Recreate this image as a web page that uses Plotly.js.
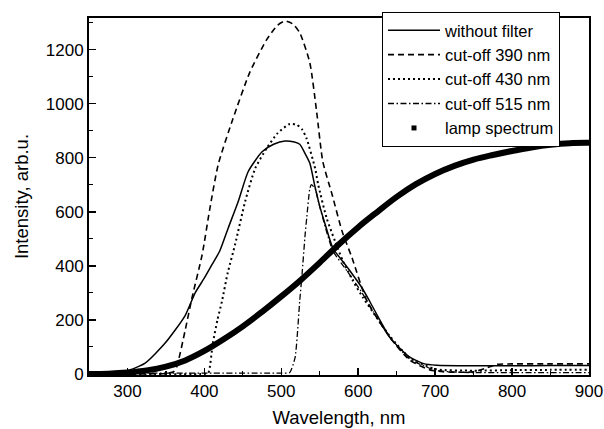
<!DOCTYPE html>
<html>
<head>
<meta charset="utf-8">
<script src="https://cdn.plot.ly/plotly-3.0.1.min.js"></script>
<style>html,body{margin:0;padding:0;background:#fff;}#chart{width:604px;height:429px;}</style>
</head>
<body>
<div id="chart"></div>
<script>
// Lamp spectrum
var lampX = [250,275,300,325,350,375,400,425,450,475,500,525,550,575,600,625,650,675,700,725,750,775,800,825,850,875,900];
var lampY = [0,1,5,13,27,50,85,128,176,230,287,347,412,480,543,600,655,702,740,770,793,810,825,838,848,854,855];

// Without filter
var noFiltX = [250,275,300,323,349,375,388,400,410,420,431,444,457,475,490,505,517,524,531,537,544,550,557,567,587,605,615,628,641,655,667,685,702,750,800,850,900];
var noFiltY = [2,4,12,40,114,216,300,355,405,455,540,638,749,822,850,862,858,850,815,780,690,620,554,466,390,318,268,200,136,92,62,38,32,30,30,31,31];

// Cut-off 390 nm
var cut390X = [250,300,350,360,364,375,384,397,407,418,437,459,481,495,505,515,524,537,546,554,566,579,592,611,641,667,693,710,730,750,765,780,800,850,900];
var cut390Y = [0,0,2,8,26,161,283,440,610,775,943,1116,1237,1290,1306,1295,1262,1152,969,785,664,528,429,272,136,51,15,8,6,8,20,35,37,37,37];

// Cut-off 430 nm
var cut430X = [250,400,405,411,417,423,430,440,453,466,481,495,511,520,527,533,544,548,559,570,580,593,606,620,641,667,700,750,800,850,900];
var cut430Y = [0,0,3,114,200,271,370,480,638,760,835,890,925,922,905,870,760,700,576,490,418,345,283,225,140,60,18,12,14,15,15];

// Cut-off 515 nm
var cut515X = [250,300,400,500,511,518,524,527,531,533,537,539,544,548,557,567,587,605,620,641,667,700,730,800,900];
var cut515Y = [3,3,3,3,5,62,272,370,517,576,685,700,686,640,545,455,375,300,228,135,55,14,6,5,5];

var names = ['without filter','cut-off 390 nm','cut-off 430 nm','cut-off 515 nm','lamp spectrum'];

var traces = [
  {x: lampX, y: lampY, mode: 'lines', line: {color: '#000', width: 6, shape: 'spline', smoothing: 1}, showlegend: false, hoverinfo: 'skip'},
  {x: noFiltX, y: noFiltY, name: names[0], mode: 'lines', line: {color: '#000', width: 1.5, shape: 'spline', smoothing: 0.6}},
  {x: cut390X, y: cut390Y, name: names[1], mode: 'lines', line: {color: '#000', width: 1.6, dash: '6px,4px', shape: 'spline', smoothing: 0.6}},
  {x: cut430X, y: cut430Y, name: names[2], mode: 'lines', line: {color: '#000', width: 2, dash: '2px,3px', shape: 'spline', smoothing: 0.6}},
  {x: cut515X, y: cut515Y, name: names[3], mode: 'lines', line: {color: '#000', width: 1.3, dash: '6px,2.5px,1.5px,2.5px', shape: 'spline', smoothing: 0.5}},
  {x: [null], y: [null], name: names[4], mode: 'markers', marker: {symbol: 'square', size: 5, color: '#000'}}
];

var fontFam = 'Liberation Sans, Arial, sans-serif';
var layout = {
  width: 604, height: 429,
  margin: {l: 89, r: 15, t: 15, b: 54},
  paper_bgcolor: '#fff', plot_bgcolor: '#fff',
  font: {family: fontFam, color: '#000'},
  showlegend: true,
  legend: {
    x: 0.586, y: 1.017, xanchor: 'left', yanchor: 'top',
    bgcolor: '#fff', bordercolor: '#000', borderwidth: 1,
    font: {family: fontFam, size: 16.5, color: '#000'},
    itemwidth: 52, tracegroupgap: 0
  },
  xaxis: {
    range: [250, 900], dtick: 100, tick0: 300,
    ticks: 'inside', ticklen: 7, tickwidth: 1.5, tickcolor: '#000',
    minor: {ticks: 'inside', ticklen: 4, dtick: 50, tickwidth: 1.2, tickcolor: '#000', showgrid: false},
    showline: true, linewidth: 2, linecolor: '#000', mirror: true,
    showgrid: false, zeroline: false,
    tickfont: {family: fontFam, size: 17, color: '#000'},
    title: {text: 'Wavelength, nm', font: {family: fontFam, size: 18.5, color: '#000'}, standoff: 11}
  },
  yaxis: {
    range: [-4, 1317], dtick: 200, tick0: 0,
    ticks: 'inside', ticklen: 7, tickwidth: 1.5, tickcolor: '#000',
    minor: {ticks: 'inside', ticklen: 4, dtick: 100, tickwidth: 1.2, tickcolor: '#000', showgrid: false},
    showline: true, linewidth: 2, linecolor: '#000', mirror: true,
    showgrid: false, zeroline: false,
    tickfont: {family: fontFam, size: 17, color: '#000'},
    title: {text: 'Intensity, arb.u.', font: {family: fontFam, size: 18.5, color: '#000'}, standoff: 12}
  }
};

Plotly.newPlot('chart', traces, layout, {displayModeBar: false, staticPlot: true});
</script>
</body>
</html>
